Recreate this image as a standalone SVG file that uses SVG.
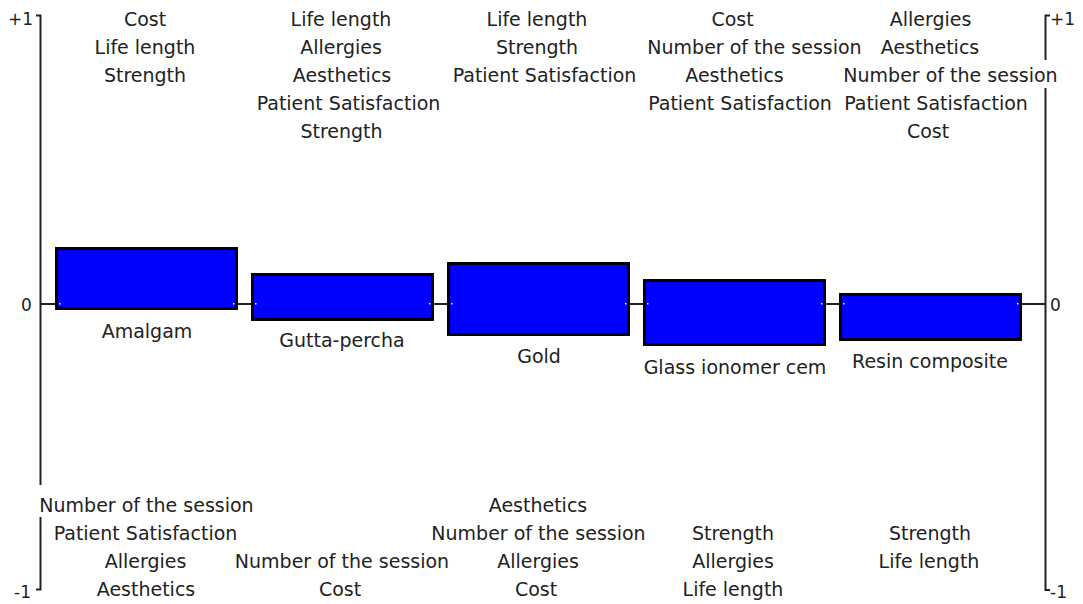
<svg xmlns="http://www.w3.org/2000/svg" width="1083" height="604" viewBox="0 0 1083 604">
<style>
text{font-family:"DejaVu Sans","Liberation Sans",sans-serif;font-size:19px;fill:#222;}
.m{text-anchor:middle;}
.s{text-anchor:start;}
.ax{font-size:17px;}
.axl{stroke:#222;stroke-width:2;fill:none;}
.bar{fill:#0000ff;stroke:#000;stroke-width:3;}
.dot{fill:#fff;}
</style>
<rect width="1083" height="604" fill="#fff"/>
<g id="axes">
<path class="axl" d="M36 15.5H40.5V485M40.5 517V589.5H36"/>
<path class="axl" d="M1050 15.5H1045.5V60M1045.5 88V590H1050"/>
<text class="ax" x="8" y="25">+1</text>
<text class="ax" x="21" y="311">0</text>
<text class="ax" x="14" y="598">-1</text>
<text class="ax" x="1050" y="25">+1</text>
<text class="ax" x="1050" y="311">0</text>
<text class="ax" x="1050" y="598">-1</text>
</g>
<g id="connectors">
<line class="axl" x1="40" y1="304" x2="56" y2="304"/>
<line class="axl" x1="237" y1="304" x2="252" y2="304"/>
<line class="axl" x1="433" y1="304" x2="448" y2="304"/>
<line class="axl" x1="629" y1="304" x2="644" y2="304"/>
<line class="axl" x1="825" y1="304" x2="840" y2="304"/>
<line class="axl" x1="1021" y1="304" x2="1046" y2="304"/>
</g>
<g id="amalgam">
<rect class="bar" x="56.5" y="248.5" width="180" height="60"/>
<rect class="dot" x="59" y="303" width="1.5" height="1.5"/><rect class="dot" x="233" y="303" width="1.5" height="1.5"/>
<text class="m" x="147" y="338">Amalgam</text>
<text class="m" x="145" y="26">Cost</text>
<text class="m" x="145" y="54">Life length</text>
<text class="m" x="145" y="82">Strength</text>
<text class="m" x="146.5" y="512">Number of the session</text>
<text class="m" x="145.5" y="540">Patient Satisfaction</text>
<text class="m" x="145.5" y="568">Allergies</text>
<text class="m" x="146" y="596">Aesthetics</text>
</g>
<g id="gutta-percha">
<rect class="bar" x="252.5" y="274.5" width="180" height="45"/>
<rect class="dot" x="255" y="303" width="1.5" height="1.5"/><rect class="dot" x="429" y="303" width="1.5" height="1.5"/>
<text class="m" x="342" y="347">Gutta-percha</text>
<text class="m" x="341" y="26">Life length</text>
<text class="m" x="341" y="54">Allergies</text>
<text class="m" x="342" y="82">Aesthetics</text>
<text class="m" x="348.5" y="110">Patient Satisfaction</text>
<text class="m" x="341.5" y="138">Strength</text>
<text class="m" x="342" y="568">Number of the session</text>
<text class="m" x="340" y="596">Cost</text>
</g>
<g id="gold">
<rect class="bar" x="448.5" y="263.5" width="180" height="71"/>
<rect class="dot" x="451" y="303" width="1.5" height="1.5"/><rect class="dot" x="625" y="303" width="1.5" height="1.5"/>
<text class="m" x="539" y="363">Gold</text>
<text class="m" x="537" y="26">Life length</text>
<text class="m" x="537" y="54">Strength</text>
<text class="m" x="544.5" y="82">Patient Satisfaction</text>
<text class="m" x="538" y="512">Aesthetics</text>
<text class="m" x="538.5" y="540">Number of the session</text>
<text class="m" x="538" y="568">Allergies</text>
<text class="m" x="536" y="596">Cost</text>
</g>
<g id="glass-ionomer-cem">
<rect class="bar" x="644.5" y="280.5" width="180" height="64"/>
<rect class="dot" x="647" y="303" width="1.5" height="1.5"/><rect class="dot" x="821" y="303" width="1.5" height="1.5"/>
<text class="m" x="735" y="374">Glass ionomer cem</text>
<text class="m" x="732.5" y="26">Cost</text>
<text class="m" x="754.5" y="54">Number of the session</text>
<text class="m" x="734.5" y="82">Aesthetics</text>
<text class="m" x="740" y="110">Patient Satisfaction</text>
<text class="m" x="733" y="540">Strength</text>
<text class="m" x="733" y="568">Allergies</text>
<text class="m" x="733" y="596">Life length</text>
</g>
<g id="resin-composite">
<rect class="bar" x="840.5" y="294.5" width="180" height="45"/>
<rect class="dot" x="843" y="303" width="1.5" height="1.5"/><rect class="dot" x="1017" y="303" width="1.5" height="1.5"/>
<text class="m" x="930" y="368">Resin composite</text>
<text class="m" x="930.5" y="26">Allergies</text>
<text class="m" x="930" y="54">Aesthetics</text>
<text class="m" x="950.5" y="82">Number of the session</text>
<text class="m" x="936" y="110">Patient Satisfaction</text>
<text class="m" x="928" y="138">Cost</text>
<text class="m" x="930" y="540">Strength</text>
<text class="m" x="929" y="568">Life length</text>
</g>
</svg>
